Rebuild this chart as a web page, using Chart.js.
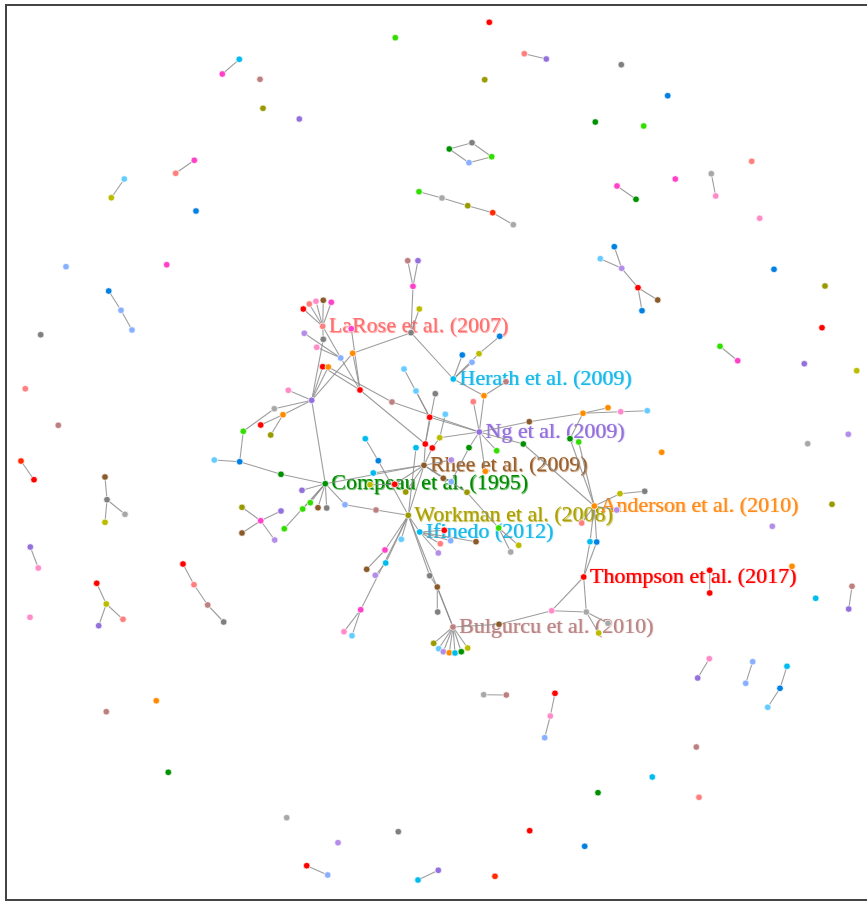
<!DOCTYPE html>
<html>
<head>
<meta charset="utf-8">
<title>Citation network</title>
<script src="https://cdn.jsdelivr.net/npm/chart.js@4.4.1/dist/chart.umd.min.js"></script>
<style>
  html, body { margin: 0; padding: 0; background: #fff; overflow: hidden; }
  #frame {
    position: absolute; left: 5px; top: 4px; width: 920px; height: 893px;
    border: 2px solid #444; box-sizing: content-box;
  }
  #wrap { position: absolute; left: 0; top: 0; width: 867px; height: 901px; }
</style>
</head>
<body>
<div id="frame"></div>
<div id="wrap"><canvas id="net"></canvas></div>
<script>
// Node groups and their colours
const groupColors = {
  red: '#ff0000', redorange: '#ff2a00', salmon: '#ff7f7f', magenta: '#ff40c8',
  pink: '#ff8cc8', brown: '#8b5a2b', rosy: '#bc8080', olive: '#999900',
  yellow: '#bbbb00', green: '#33dd00', dkgreen: '#009000', gray: '#7f7f7f',
  ltgray: '#a8a8a8', blue: '#0080e0', ltblue: '#88b0ff', cyan: '#00bbee',
  ltcyan: '#66ccff', purple: '#9370db', lavender: '#b38de8', orange: '#ff8c00'
};

// Isolated papers: [id, x, y, group]
const isolatedNodes = [
  ['i1',489.3,22.3,'red'], ['i2',395.3,37.7,'green'], ['i3',484.7,79.7,'olive'],
  ['i4',299.3,119,'purple'], ['i5',260,79.3,'rosy'], ['i6',263,108.3,'olive'],
  ['i7',196,211,'blue'], ['i8',621.3,64.7,'gray'], ['i9',667.7,95.7,'blue'],
  ['i10',595.3,122,'dkgreen'], ['i11',643.7,126,'green'], ['i12',751.7,161.3,'salmon'],
  ['i13',675.3,179,'magenta'], ['i14',759.7,218.3,'pink'], ['i15',66,266.7,'ltblue'],
  ['i16',166.7,264.7,'magenta'], ['i17',40.7,334.7,'gray'], ['i18',25.3,388.7,'salmon'],
  ['i19',58.3,425.3,'rosy'], ['i20',774,269.3,'blue'], ['i21',825,286,'olive'],
  ['i22',822,327.7,'red'], ['i23',804.3,363.7,'purple'], ['i24',856.7,370.7,'yellow'],
  ['i25',848.3,434.3,'lavender'], ['i26',807.7,443.7,'ltgray'], ['i27',661.7,452.3,'orange'],
  ['i28',30,617.3,'pink'], ['i29',832,504.3,'olive'], ['i30',772.3,526.3,'lavender'],
  ['i31',792,566.3,'orange'], ['i32',815.7,598.3,'cyan'], ['i33',106.3,711.7,'rosy'],
  ['i34',156.3,700.7,'orange'], ['i35',168.3,772.3,'dkgreen'], ['i36',286.7,817.7,'ltgray'],
  ['i37',696.3,747,'rosy'], ['i38',652.3,777,'cyan'], ['i39',598,792.7,'dkgreen'],
  ['i40',699,797.3,'salmon'], ['i41',584.7,846.3,'blue'], ['i42',398.3,831.7,'gray'],
  ['i43',338,842.7,'lavender'], ['i44',529.7,830.7,'red'], ['i45',495,876.3,'redorange']
];

// Small connected groups
const smallGroupNodes = [
  ['a1',239.3,59.3,'cyan'], ['a2',222.3,74,'magenta'],
  ['b1',194.3,160.3,'magenta'], ['b2',175.7,173.3,'salmon'],
  ['c1',124.3,179,'ltcyan'], ['c2',111.3,197.7,'yellow'],
  ['d1',524.3,53.7,'salmon'], ['d2',546.3,59,'purple'],
  ['e1',449.3,149,'dkgreen'], ['e2',472,142.7,'gray'], ['e3',491.7,156.7,'green'], ['e4',469,162.7,'ltblue'],
  ['f1',419,191.7,'green'], ['f2',442,198,'ltgray'], ['f3',467.7,205.7,'olive'], ['f4',492.7,212.7,'redorange'], ['f5',513.3,224.7,'ltgray'],
  ['g1',711.3,173.7,'ltgray'], ['g2',715.7,196,'pink'],
  ['h1',617,186,'magenta'], ['h2',636,199.3,'dkgreen'],
  ['k1',108.7,291,'blue'], ['k2',121,310.3,'ltblue'], ['k3',132,330,'ltblue'],
  ['m1',614.3,246.7,'blue'], ['m2',600.3,258.7,'ltcyan'], ['m3',621.7,268.3,'lavender'], ['m4',638,287.7,'red'], ['m5',657.7,300,'brown'], ['m6',642,310.7,'blue'],
  ['n1',720,346.3,'green'], ['n2',737.7,360.7,'magenta'],
  ['o1',21,461,'redorange'], ['o2',34,479.7,'red'],
  ['p1',105,477,'brown'], ['p2',107,499.7,'gray'], ['p3',125,514.3,'ltgray'], ['p4',105,522.3,'yellow'],
  ['q1',30.3,547,'purple'], ['q2',38.3,568,'pink'],
  ['r1',96.7,583.3,'red'], ['r2',106.3,604,'yellow'], ['r3',123,619.3,'salmon'], ['r4',98.7,625.7,'purple'],
  ['s1',183,564,'red'], ['s2',194,584.7,'salmon'], ['s3',207.7,605,'rosy'], ['s4',223.7,622,'gray'],
  ['t1',709.7,570.3,'red'], ['t2',709.7,593,'red'],
  ['u1',852,586.3,'rosy'], ['u2',848.7,609,'purple'],
  ['v1',709.3,658.7,'pink'], ['v2',697.7,678,'purple'],
  ['w1',752.7,661.7,'ltblue'], ['w2',745.7,683.3,'ltblue'],
  ['x1',787,666.3,'cyan'], ['x2',780,688.3,'blue'], ['x3',767.7,707.3,'ltcyan'],
  ['y1',483.7,694.7,'ltgray'], ['y2',506.3,695,'rosy'],
  ['z1',555,693.3,'red'], ['z2',550.3,716,'pink'], ['z3',544.7,737.7,'ltblue'],
  ['aa1',306.7,865.7,'red'], ['aa2',327.7,875,'ltblue'],
  ['bb1',418,880,'cyan'], ['bb2',438.3,870.3,'purple']
];

// Main component: upper-left part (LaRose, hub, left fringe)
const westNodes = [
  ['LR',322.7,326.3,'salmon'],
  ['L1',303.3,309,'red'], ['L2',309.3,304,'salmon'], ['L3',316,301.3,'pink'], ['L4',323.3,300.3,'brown'], ['L5',331.3,302.3,'magenta'],
  ['L6',304.3,333.3,'lavender'], ['L7',351.3,328.7,'magenta'], ['L8',323.3,339.3,'gray'], ['L9',316.7,347.3,'pink'],
  ['L10',340.7,358,'ltblue'], ['L11',352.7,353.3,'orange'], ['L12',322.7,366.7,'red'], ['L13',328.3,367,'orange'],
  ['L14',360,390,'red'], ['L15',392,402,'rosy'], ['HUB',311.7,400.3,'purple'],
  ['T1',407.7,260.7,'rosy'], ['T2',418,260.7,'purple'], ['T3',413,286.3,'magenta'], ['T4',419.3,309,'yellow'], ['J',411,332.7,'gray'],
  ['W1',288.3,390.3,'pink'], ['W2',274.3,408.7,'ltgray'], ['W3',283,414.7,'orange'], ['W4',260.7,425,'red'],
  ['W5',243.3,431.3,'green'], ['W6',270.7,435,'olive'], ['W7',214.3,460,'ltcyan'], ['W8',239.7,461.7,'blue'], ['W9',281,474.3,'dkgreen'],
  ['X1',242,507.3,'olive'], ['X2',260.7,520.7,'magenta'], ['X3',281,511,'purple'], ['X4',242,533,'brown'], ['X5',274.7,540,'lavender'], ['X6',284.3,528.7,'green']
];

// Main component: centre and east (Herath, Ng, Rhee, Anderson, Thompson)
const eastNodes = [
  ['C1',365.3,438.7,'cyan'], ['C2',429.7,417.3,'red'], ['C3',404,369,'ltcyan'], ['C4',416,391,'ltcyan'], ['C5',435.3,393.7,'gray'],
  ['C6',445.3,414.3,'ltcyan'], ['C7',439.7,437.7,'yellow'], ['C8',425.3,444,'red'], ['C9',432.3,448,'red'], ['C10',416,447.7,'cyan'],
  ['HER',453.3,379,'cyan'], ['H1',462.3,355,'blue'], ['H2',472,362.3,'ltblue'], ['H3',479,353.7,'yellow'], ['H4',499.7,336.3,'blue'],
  ['H5',506,381.7,'rosy'], ['H6',484,395.7,'orange'], ['H7',473.3,401.7,'salmon'],
  ['NG',479.3,432,'purple'], ['N1',529.3,421.7,'brown'], ['N2',583,413.3,'orange'], ['N3',608,407.7,'orange'], ['N4',620.7,411.7,'pink'],
  ['N5',647.3,410.7,'ltcyan'], ['N6',469,447.7,'dkgreen'], ['N7',496.7,450.7,'green'], ['N8',523.3,444,'dkgreen'], ['N9',570,438.7,'dkgreen'], ['N10',578.7,442,'green'],
  ['RH',424,465.3,'brown'], ['R1',378.3,460.7,'blue'], ['R2',373.3,473,'cyan'], ['R3',394.7,484.3,'red'], ['R4',370,484.7,'yellow'],
  ['R5',405.7,492,'olive'], ['R6',443.3,478.3,'brown'], ['R7',451.3,481.7,'ltblue'], ['R8',485.3,471.3,'orange'], ['R9',451.3,460,'lavender'],
  ['R10',467,492.3,'olive'], ['R11',498.7,528,'green'], ['R12',518.7,545.3,'yellow'], ['R13',510.7,552,'ltgray'],
  ['AN',594.3,506,'orange'], ['A1',620,493.7,'yellow'], ['A2',644.7,491.3,'gray'], ['A3',581.7,523,'salmon'], ['A4',616.7,510,'lavender'],
  ['A5',590,541.7,'cyan'], ['A6',596.7,542,'blue'],
  ['TH',583.7,577,'red'], ['T5',586.3,612,'ltgray'], ['T6',608,623.3,'ltgray'], ['T7',598.7,633,'yellow']
];

// Main component: south (Compeau, Workman, Ifinedo, Bulgurcu)
const southNodes = [
  ['CMP',325.3,483.7,'dkgreen'], ['P1',302,490.3,'purple'], ['P2',310.3,502.7,'green'], ['P3',302.7,509,'green'],
  ['P4',318,507.7,'brown'], ['P5',326.7,508,'gray'], ['P6',345,504.7,'ltblue'], ['P7',376,510,'rosy'],
  ['WK',408.3,515.3,'olive'], ['IF',419.7,532,'cyan'], ['F1',444.3,530.3,'red'], ['F2',440.3,543.7,'salmon'],
  ['F3',438.3,553,'lavender'], ['F4',450.7,540.7,'ltblue'], ['F5',476,541.7,'brown'],
  ['K1',401.3,539.3,'ltcyan'], ['K2',385,550,'magenta'], ['K3',385.7,563,'cyan'], ['K4',366.7,569.3,'brown'], ['K5',375.3,575.3,'lavender'],
  ['K6',360.7,609.7,'magenta'], ['K7',344,631.7,'pink'], ['K8',352,635.7,'ltcyan'], ['K9',429.7,575.7,'gray'], ['K10',437.3,587,'brown'], ['K11',437.7,612,'gray'],
  ['BG',453,627,'rosy'], ['B1',433.7,643.3,'olive'], ['B2',438.7,648.7,'ltcyan'], ['B3',443.3,651.7,'lavender'], ['B4',449.3,652.7,'orange'],
  ['B5',455,653,'cyan'], ['B6',461.3,651.7,'dkgreen'], ['B7',467.7,648,'yellow'], ['B8',499,624.3,'brown'], ['B9',551.7,610.7,'pink']
];

// Citation links, written as chains "a-b-c"
const smallGroupLinks = [
  'a1-a2', 'b1-b2', 'c1-c2', 'd1-d2', 'e1-e2-e3-e4-e1', 'f1-f2-f3-f4-f5', 'g1-g2', 'h1-h2', 'k1-k2-k3',
  'm1-m3-m2', 'm3-m4-m5', 'm4-m6', 'n1-n2', 'o1-o2', 'p1-p2-p3', 'p2-p4', 'q1-q2', 'r1-r2-r3', 'r2-r4',
  's1-s2-s3-s4', 't1-t2', 'u1-u2', 'v1-v2', 'w1-w2', 'x1-x2-x3', 'y1-y2', 'z1-z2-z3', 'aa1-aa2', 'bb1-bb2'
];
const westLinks = [
  'L1-LR', 'L2-LR', 'L3-LR', 'L4-LR', 'L5-LR', 'LR-L8-HUB', 'L12-HUB', 'L13-HUB', 'L12-L14', 'L13-L15',
  'L6-L10', 'L9-L10', 'LR-L10-L14', 'L7-L14', 'L11-L14', 'L11-HUB', 'L11-J', 'J-T3', 'T3-T1', 'T3-T2', 'T4-J', 'J-HER',
  'W1-HUB', 'W2-HUB', 'W3-HUB', 'W4-W3', 'W6-W3', 'W5-W2', 'W5-W8', 'W7-W8-W9-CMP', 'HUB-CMP',
  'X1-X2-X3', 'X2-X4', 'X2-X5', 'X6-CMP'
];
const eastLinks = [
  'C1-R1-WK', 'C3-C2', 'C4-C2', 'L15-NG', 'C2-NG', 'C2-C8', 'C5-C8', 'C6-C7-NG', 'C7-C9-RH', 'C8-RH', 'C10-WK', 'L14-C8',
  'HER-H1', 'HER-H2', 'HER-H3-H4', 'HER-H6-H5', 'H6-NG', 'H7-NG',
  'NG-N1-N2-N3', 'N2-N4-N5', 'NG-N6', 'NG-N7', 'NG-N8-AN', 'N9-AN', 'N10-AN', 'N9-N2',
  'N6-R7', 'R6-RH', 'R9-RH', 'R8-NG', 'RH-R10-R11-R12', 'R11-R13', 'R5-RH', 'R4-R3-RH', 'R2-RH', 'RH-WK', 'CMP-RH',
  'AN-A1-A2', 'AN-A3', 'AN-A4', 'AN-A5-TH', 'AN-A6-TH', 'TH-T5-T6', 'T5-T7'
];
const southLinks = [
  'CMP-P1', 'CMP-P2', 'CMP-P3', 'CMP-P4', 'CMP-P5', 'CMP-P6-P7-WK',
  'WK-IF', 'IF-F1', 'IF-F2', 'IF-F3', 'IF-F4', 'IF-F5',
  'WK-K1', 'WK-K2-K4', 'WK-K3-K5', 'WK-K6-K7', 'K6-K8', 'WK-K9-K10-BG', 'WK-BG', 'K11-K10',
  'BG-B1', 'BG-B2', 'BG-B3', 'BG-B4', 'BG-B5', 'BG-B6', 'BG-B7', 'BG-B8-B9-TH', 'B9-T5'
];

// Named papers
const labelNodes = ['LR', 'HER', 'NG', 'RH', 'CMP', 'WK', 'IF', 'AN', 'TH', 'BG'];
const labelTexts = ['LaRose et al. (2007)', 'Herath et al. (2009)', 'Ng et al. (2009)', 'Rhee et al. (2009)',
  'Compeau et al. (1995)', 'Workman et al. (2008)', 'Ifinedo (2012)', 'Anderson et al. (2010)',
  'Thompson et al. (2017)', 'Bulgurcu et al. (2010)'];
const labelColors = ['#ff6f6f', '#19b9ea', '#9370db', '#9a5f2a', '#008a00', '#aaa000', '#19b9ea', '#ff8c1a', '#ff0000', '#bc8585'];

// ---- build chart data ----
const allNodes = [...isolatedNodes, ...smallGroupNodes, ...westNodes, ...eastNodes, ...southNodes];
const byId = {};
allNodes.forEach(n => { byId[n[0]] = { x: n[1], y: n[2], group: n[3] }; });

const linkPairs = [];
[...smallGroupLinks, ...westLinks, ...eastLinks, ...southLinks].forEach(chain => {
  const ids = chain.split('-');
  for (let i = 0; i < ids.length - 1; i++) linkPairs.push([ids[i], ids[i + 1]]);
});

const nodeDataset = {
  label: 'papers',
  data: allNodes.map(n => ({ x: n[1], y: n[2] })),
  pointRadius: 3.3,
  pointBorderWidth: 0.8,
  pointBorderColor: 'rgba(255,255,255,0.9)',
  pointBackgroundColor: allNodes.map(n => groupColors[n[3]]),
  showLine: false,
  order: 0
};

const linkDatasets = linkPairs.map(([a, b]) => ({
  label: 'link',
  data: [{ x: byId[a].x, y: byId[a].y }, { x: byId[b].x, y: byId[b].y }],
  showLine: true,
  borderColor: 'rgba(140,140,140,0.85)',
  borderWidth: 1.1,
  pointRadius: 0,
  order: 1
}));

// Paper titles, drawn under links and nodes
const titlePlugin = {
  id: 'titles',
  beforeDatasetsDraw(chart) {
    const { ctx, scales: { x, y } } = chart;
    ctx.save();
    ctx.font = '22px "Liberation Serif", "Times New Roman", serif';
    ctx.textBaseline = 'middle';
    ctx.textAlign = 'left';
    labelNodes.forEach((id, i) => {
      const n = byId[id];
      const px = x.getPixelForValue(n.x) + 6;
      const py = y.getPixelForValue(n.y);
      ctx.shadowColor = labelColors[i];
      ctx.shadowBlur = 1.5;
      ctx.globalAlpha = 0.45;
      ctx.fillStyle = labelColors[i];
      ctx.fillText(labelTexts[i], px + 0.8, py + 0.6);
      ctx.globalAlpha = 1;
      ctx.shadowBlur = 0;
      ctx.fillText(labelTexts[i], px, py);
    });
    ctx.restore();
  }
};

new Chart(document.getElementById('net'), {
  type: 'scatter',
  data: { datasets: [nodeDataset, ...linkDatasets] },
  options: {
    responsive: true,
    maintainAspectRatio: false,
    animation: false,
    events: [],
    layout: { padding: 0, autoPadding: false },
    plugins: { legend: { display: false }, tooltip: { enabled: false } },
    scales: {
      x: { type: 'linear', min: 0, max: 867, display: false },
      y: { type: 'linear', min: 0, max: 901, reverse: true, display: false }
    }
  },
  plugins: [titlePlugin]
});
</script>
</body>
</html>
